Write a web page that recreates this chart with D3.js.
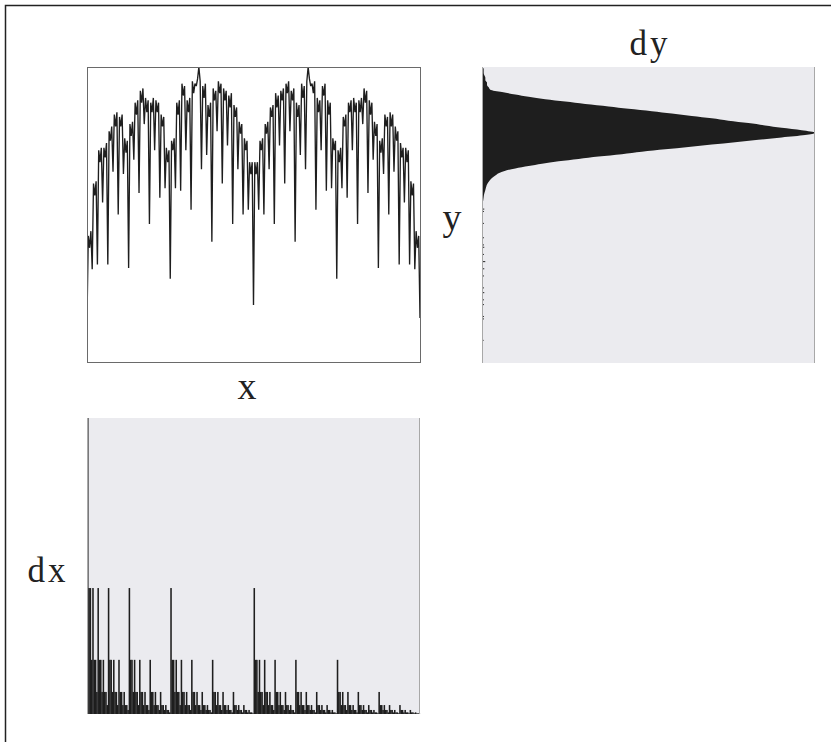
<!DOCTYPE html>
<html><head><meta charset="utf-8">
<script src="https://cdn.jsdelivr.net/npm/d3@7"></script>
<style>body{margin:0;background:#fff}svg{display:block}</style>
</head><body>
<svg id="c" width="831" height="742"></svg>
<script>
// ---- data: top-left curve y(x), left half then right half (257 samples over x in [0,1])
const yLeft = [-5.5,
 29,24,31, 15, 51,46,52, 17, 65,60,66, 43, 66,62,68, 17,
 73,69,75, 56, 80,75,81, 38, 79,75,80, 55, 70,64,69, 15.5,
 76,71,77, 61, 85,80,86, 47, 90,85,91, 76, 87,81,86, 34,
 85,81,87, 65, 86,81,85, 45, 80,75,79, 49, 66,60,65, 11,
 69,65,70, 49, 85,80,86, 48, 93,88,92, 65, 86,81,87, 40,
 94,89,93, 92, 95,100,94, 57, 92,87,93, 63, 84,79,85, 26.5,
 91,86,90, 73, 94,89,93, 51, 91,86,90, 67, 88,83,89, 34,
 84,79,83, 57, 77,72,76, 38, 70,65,69, 40, 60,55,60, 0];
const yRight = [
 60,55,60,40, 69,65,70,38, 76,72,77,57, 83,79,84,34,
 89,83,88,67, 90,86,91,51, 93,89,94,73, 90,86,91,26.5,
 85,79,84,63, 93,87,92,57, 94,100,95,92, 93,89,94,40,
 87,81,86,65, 92,88,93,48, 86,80,85,49, 70,65,69,11,
 65,60,66,49, 79,75,80,45, 85,81,86,65, 87,81,85,34,
 86,81,87,76, 91,85,90,47, 86,80,85,61, 77,71,76,15.5,
 69,64,70,55, 80,75,79,38, 81,75,80,56, 75,69,73,17,
 68,62,66,43, 66,60,65,17, 52,46,51,15, 31,24,29,-5.5];

// ---- data: dy histogram (bin lower edge in y units, relative count)
const dyBins = [42,43,44,45,46,47,48,49,50,51,52,53,54,55,56,57,58,59,60,61,62,63,64,65,66,67,68,69,70,71,
 72,73,74,75,76,77,78,79,80,81,82,83,84,85,86,87,88,89,90,91,92,93,94,95,96,97,98,99];
const dyCounts = [0.2,0.3,0.4,0.5,0.6,0.8,1.0,1.2,1.4,1.8,2.3,3,4,5,7,10,14,18,23,29,35,42,48,55,62,69,76,83,90,97,
 100,96,90,85,80,74,69,63,57,51,44,38,31,25,19,14,10,6,2.5,2,1.5,1.5,1,1,0.7,0.5,0.5,0.5];
const dyTailBins = [40,39,34,28,25,24,21,18,15,12,7,5,2,0,-5,-6,-15];
const dyTailCounts = [0.5,0.4,0.4,0.4,0.4,0.5,0.4,0.8,0.5,0.4,0.4,0.5,0.4,0.4,0.4,0.4,0.3];

// ---- data: dx histogram, 256 bins; level of each bin and the height of each level
const dxLevelHeight = [2.4, 1, 0.43, 0.175, 0.071, 0.032, 0.013, 0.0055, 0.0023];
const dxBinLevel = [
 0,1,1,2,1,2,2,3,1,2,2,3,2,3,3,4, 1,2,2,3,2,3,3,4,2,3,3,4,3,4,4,5,
 1,2,2,3,2,3,3,4,2,3,3,4,3,4,4,5, 2,3,3,4,3,4,4,5,3,4,4,5,4,5,5,6,
 1,2,2,3,2,3,3,4,2,3,3,4,3,4,4,5, 2,3,3,4,3,4,4,5,3,4,4,5,4,5,5,6,
 2,3,3,4,3,4,4,5,3,4,4,5,4,5,5,6, 3,4,4,5,4,5,5,6,4,5,5,6,5,6,6,7,
 1,2,2,3,2,3,3,4,2,3,3,4,3,4,4,5, 2,3,3,4,3,4,4,5,3,4,4,5,4,5,5,6,
 2,3,3,4,3,4,4,5,3,4,4,5,4,5,5,6, 3,4,4,5,4,5,5,6,4,5,5,6,5,6,6,7,
 2,3,3,4,3,4,4,5,3,4,4,5,4,5,5,6, 3,4,4,5,4,5,5,6,4,5,5,6,5,6,6,7,
 3,4,4,5,4,5,5,6,4,5,5,6,5,6,6,7, 4,5,5,6,5,6,6,7,5,6,6,7,6,7,7,8];

const labels = {x:"x", y:"y", dx:"dx", dy:"dy"};

// ---- layout
const svg = d3.select("#c");
const TL = {x0:87, x1:420, y0:67, y1:362};
const TR = {x0:482, x1:815, y0:67, y1:363};
const BL = {x0:87, x1:420, y0:418, y1:714};
const panelBg = "#ebebef", ink = "#1e1e1e";

svg.append("rect").attr("x",5.5).attr("y",5.5).attr("width",840).attr("height",750)
  .attr("fill","none").attr("stroke","#222").attr("stroke-width",1.5);

// top-left line
const yAll = yLeft.concat(yRight);
const xs = d3.scaleLinear().domain([0, yAll.length-1]).range([TL.x0, TL.x1]);
const ys = d3.scaleLinear().domain([-24, 100]).range([TL.y1, TL.y0]);
svg.append("clipPath").attr("id","ctl").append("rect")
  .attr("x",TL.x0).attr("y",TL.y0).attr("width",TL.x1-TL.x0).attr("height",TL.y1-TL.y0);
svg.append("path").datum(yAll)
  .attr("d", d3.line().x((d,i)=>xs(i)).y(d=>ys(d)))
  .attr("fill","none").attr("stroke",ink).attr("stroke-width",1.35)
  .attr("stroke-linejoin","bevel").attr("clip-path","url(#ctl)");
svg.append("rect").attr("x",TL.x0+0.5).attr("y",TL.y0+0.5)
  .attr("width",TL.x1-TL.x0).attr("height",TL.y1-TL.y0)
  .attr("fill","none").attr("stroke","#6a6a6a").attr("stroke-width",1);

// top-right dy histogram
svg.append("rect").attr("x",TR.x0).attr("y",TR.y0).attr("width",TR.x1-TR.x0).attr("height",TR.y1-TR.y0)
  .attr("fill",panelBg);
const dxs = d3.scaleLinear().domain([0,100]).range([TR.x0, TR.x1]);
const dys = d3.scaleLinear().domain([-24,100]).range([TR.y1, TR.y0]);
const dyData = dyBins.map((b,i)=>({b, c:dyCounts[i]}));
svg.append("path").datum(dyData)
  .attr("d", d3.area().curve(d3.curveMonotoneY)
    .y(d=>dys(d.b+0.5)).x0(dxs(0)).x1(d=>dxs(d.c)))
  .attr("fill",ink);
svg.selectAll("rect.tail").data(dyTailBins).join("rect").attr("class","tail")
  .attr("x",dxs(0)).attr("y",d=>dys(d+0.7))
  .attr("width",(d,i)=>dxs(dyTailCounts[i])-dxs(0)+0.6)
  .attr("height",dys(0)-dys(0.45)).attr("fill","#333");
[TR.x0+0.5, TR.x1-0.5].forEach(x=>svg.append("line").attr("x1",x).attr("x2",x)
  .attr("y1",TR.y0).attr("y2",TR.y1).attr("stroke","#a8a8a8"));

// bottom-left dx histogram
svg.append("rect").attr("x",BL.x0).attr("y",BL.y0).attr("width",BL.x1-BL.x0).attr("height",BL.y1-BL.y0)
  .attr("fill",panelBg);
const bxs = d3.scaleLinear().domain([0, dxBinLevel.length]).range([BL.x0, BL.x1]);
const bys = d3.scaleLinear().domain([0, 2.35]).range([BL.y1, BL.y0]).clamp(true);
const bw = bxs(1)-bxs(0);
svg.selectAll("rect.dx").data(dxBinLevel).join("rect").attr("class","dx")
  .attr("x",(d,i)=>bxs(i)).attr("width",bw+0.25)
  .attr("y",d=>bys(dxLevelHeight[d])).attr("height",d=>BL.y1-bys(dxLevelHeight[d]))
  .attr("fill",ink);
[BL.x0+0.5, BL.x1-0.5].forEach(x=>svg.append("line").attr("x1",x).attr("x2",x)
  .attr("y1",BL.y0).attr("y2",BL.y1).attr("stroke","#a8a8a8"));

// labels
const font = "'Liberation Serif','DejaVu Serif',serif";
function lab(t,x,y,size,ls){
  svg.append("text").attr("x",x).attr("y",y).attr("text-anchor","middle")
    .attr("font-family",font).attr("font-size",size).attr("fill","#222")
    .attr("letter-spacing",ls).text(t);
}
lab(labels.dy, 650, 55, 35, 3);
lab(labels.x, 247, 399, 38, 0);
lab(labels.y, 452, 230, 38, 0);
lab(labels.dx, 48, 582, 35, 3);
</script>
</body></html>
